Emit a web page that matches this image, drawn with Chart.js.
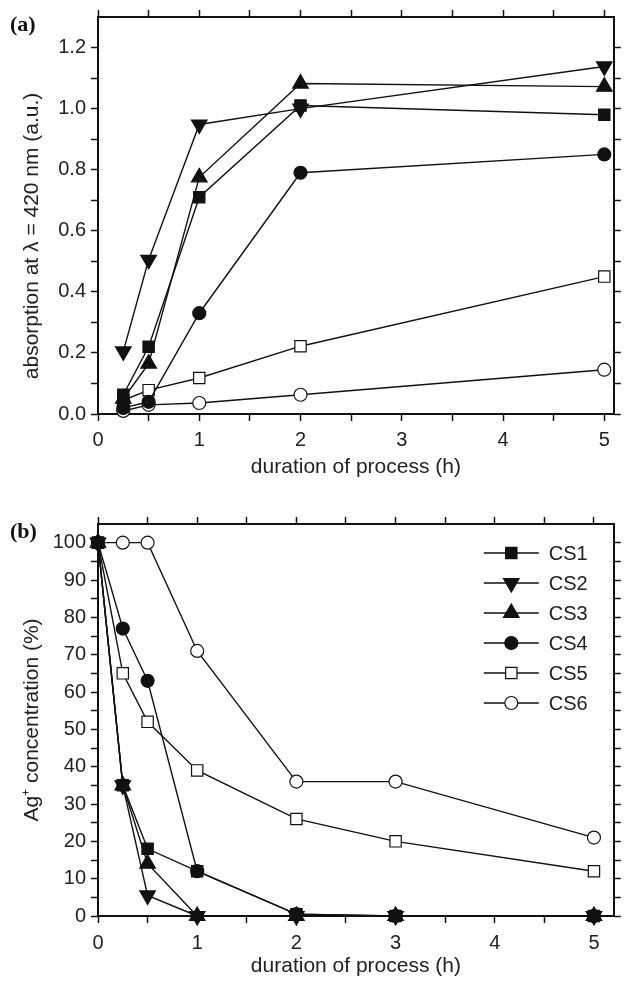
<!DOCTYPE html>
<html><head><meta charset="utf-8">
<script src="https://cdn.jsdelivr.net/npm/chart.js@4.4.1/dist/chart.umd.min.js"></script>
<style>
html,body{margin:0;padding:0;background:#fff;}
#wrap{position:relative;width:624px;height:985px;overflow:hidden;background:#fff;}
.box{position:absolute;left:0;width:624px;}
.lab{position:absolute;font-family:"Liberation Serif","DejaVu Serif",serif;font-weight:bold;font-size:22px;color:#111;line-height:1;}
</style></head><body>
<div id="wrap">
  <div class="box" style="top:0;height:490px"><canvas id="ca" width="624" height="490"></canvas></div>
  <div class="box" style="top:490px;height:495px"><canvas id="cb" width="624" height="495"></canvas></div>
  <div class="lab" style="left:10px;top:13px">(a)</div>
  <div class="lab" style="left:10px;top:520px">(b)</div>
</div>
<script>
// ---------- data ----------
const seriesNames = ['CS1','CS2','CS3','CS4','CS5','CS6'];

// panel (a): absorption at 420 nm vs duration
const timeA = [0.25, 0.5, 1, 2, 5];
const cs1A = [0.063, 0.22, 0.71, 1.01, 0.98];
const cs2A = [0.205, 0.505, 0.948, 1.00, 1.138];
const cs3A = [0.05, 0.165, 0.775, 1.082, 1.072];
const cs4A = [0.02, 0.04, 0.33, 0.79, 0.85];
const cs5A = [0.045, 0.078, 0.118, 0.222, 0.45];
const cs6A = [0.01, 0.03, 0.036, 0.063, 0.145];

// panel (b): Ag+ concentration vs duration
const timeB = [0, 0.25, 0.5, 1, 2, 3, 5];
const cs1B = [100, 35, 18, 12, 0.5, 0, 0];
const cs2B = [100, 35, 5.5, 0, 0, 0, 0];
const cs3B = [100, 35, 14, 0, 0, 0, 0];
const cs4B = [100, 77, 63, 12, 0.5, 0, 0];
const cs5B = [100, 65, 52, 39, 26, 20, 12];
const cs6B = [100, 100, 100, 71, 36, 36, 21];

// ticks
const xTickValues = [0,0.5,1,1.5,2,2.5,3,3.5,4,4.5,5];
const xTickLabels = ['0','','1','','2','','3','','4','','5'];
const yTickValuesA = [0,0.1,0.2,0.3,0.4,0.5,0.6,0.7,0.8,0.9,1.0,1.1,1.2];
const yTickLabelsA = ['0.0','','0.2','','0.4','','0.6','','0.8','','1.0','','1.2'];
const yTickValuesB = [0,5,10,15,20,25,30,35,40,45,50,55,60,65,70,75,80,85,90,95,100];
const yTickLabelsB = ['0','','10','','20','','30','','40','','50','','60','','70','','80','','90','','100'];

// ---------- styles ----------
const markers = [
  {ps:'rect', fill:'#111', r:8, rot:0},
  {ps:'triangle', fill:'#111', r:9, rot:180},
  {ps:'triangle', fill:'#111', r:9, rot:0},
  {ps:'circle', fill:'#111', r:6.5, rot:0},
  {ps:'rect', fill:'#fff', r:8, rot:0},
  {ps:'circle', fill:'#fff', r:6.5, rot:0}
];
const FAM = "'Liberation Sans', Arial, Helvetica, sans-serif";
const tickFont = {family:FAM, size:20};
const titleFont = {family:FAM, size:21};
const INK = '#111';
const TXT = '#222';

function buildDatasets(xs, series){
  return series.map((d,i)=>({
    label: seriesNames[i],
    data: xs.map((x,j)=>({x:x, y:d[j]})),
    borderColor: INK, borderWidth: 1.4,
    pointStyle: markers[i].ps, pointRadius: markers[i].r, pointHoverRadius: markers[i].r,
    pointRotation: markers[i].rot,
    pointBackgroundColor: markers[i].fill, pointBorderColor: INK, pointBorderWidth: 1.2,
    tension: 0, fill: false, clip: false
  }));
}

function setTicks(values){ return ax => { ax.ticks = values.map(v=>({value:v})); }; }

function scalesFor(o){
  const grid = {display:true, drawOnChartArea:false, drawTicks:true, tickLength:7, tickColor:INK, tickWidth:1.5};
  const border = {display:true, color:INK, width:2};
  return {
    x: {type:'linear', position:'bottom', min:o.xmin, max:o.xmax, offset:false,
        afterBuildTicks: setTicks(xTickValues),
        ticks:{font:tickFont, color:TXT, padding:o.xTickPad, autoSkip:false, maxRotation:0,
               callback:(v,i)=>xTickLabels[i]},
        grid:grid, border:border,
        title:{display:true, text:'duration of process (h)', font:titleFont, color:TXT, padding:{top:0,bottom:o.xTitlePad}},
        afterFit: ax=>{ ax.height = o.xh; }},
    x2: {type:'linear', position:'top', min:o.xmin, max:o.xmax, offset:false,
        afterBuildTicks: setTicks(xTickValues),
        ticks:{display:false}, grid:grid, border:border,
        afterFit: ax=>{ ax.height = o.x2h; }},
    y: {type:'linear', position:'left', min:o.ymin, max:o.ymax, offset:false,
        afterBuildTicks: setTicks(o.yVals),
        ticks:{font:tickFont, color:TXT, padding:5, autoSkip:false,
               callback:(v,i)=>o.yLabels[i]},
        grid:grid, border:border,
        title:{display:true, text:o.yTitle, font:titleFont, color:TXT, padding:{top:20,bottom:0}},
        afterFit: ax=>{ ax.width = o.yw; }},
    y2: {type:'linear', position:'right', min:o.ymin, max:o.ymax, offset:false,
        afterBuildTicks: setTicks(o.yVals),
        ticks:{display:false}, grid:grid, border:border,
        afterFit: ax=>{ ax.width = o.y2w; }}
  };
}

const insideLegend = {
  id:'insideLegend',
  afterDatasetsDraw(chart, args, opts){
    if(!opts || !opts.show) return;
    const ctx = chart.ctx, ca = chart.chartArea;
    chart.data.datasets.forEach((ds,i)=>{
      const y = ca.top + opts.top + i*opts.gap;
      const xl = ca.right - opts.lineStart, xr = ca.right - opts.lineEnd, xm = (xl+xr)/2;
      ctx.save();
      ctx.strokeStyle = INK; ctx.lineWidth = 1.4;
      ctx.beginPath(); ctx.moveTo(xl,y); ctx.lineTo(xr,y); ctx.stroke();
      ctx.fillStyle = ds.pointBackgroundColor; ctx.strokeStyle = ds.pointBorderColor;
      ctx.lineWidth = ds.pointBorderWidth;
      Chart.helpers.drawPoint(ctx, {pointStyle:ds.pointStyle, radius:ds.pointRadius, rotation:ds.pointRotation, borderWidth:ds.pointBorderWidth}, xm, y);
      ctx.fillStyle = TXT;
      ctx.font = opts.fontSize + 'px ' + FAM;
      ctx.textAlign = 'left'; ctx.textBaseline = 'middle';
      ctx.fillText(ds.label, ca.right - opts.textX, y + 1);
      ctx.restore();
    });
  }
};

function makeChart(id, xs, series, o){
  return new Chart(document.getElementById(id), {
    type:'line',
    data:{datasets: buildDatasets(xs, series)},
    options:{
      responsive:false, animation:false, events:[],
      layout:{padding:0},
      scales: scalesFor(o),
      plugins:{legend:{display:false}, tooltip:{enabled:false},
               insideLegend: o.legend || {show:false}}
    },
    plugins:[insideLegend]
  });
}

makeChart('ca', timeA, [cs1A,cs2A,cs3A,cs4A,cs5A,cs6A], {
  xmin:0, xmax:5.094, ymin:0, ymax:1.3,
  yVals:yTickValuesA, yLabels:yTickLabelsA,
  yTitle:'absorption at \u03bb = 420 nm (a.u.)' + '\u00a0\u00a0\u00a0\u00a0\u00a0\u00a0\u00a0',
  xh:76, x2h:17, yw:98, y2w:2, xTitlePad:10, xTickPad:7
});

makeChart('cb', timeB, [cs1B,cs2B,cs3B,cs4B,cs5B,cs6B], {
  xmin:0, xmax:5.2, ymin:0, ymax:105,
  yVals:yTickValuesB, yLabels:yTickLabelsB,
  yTitle:'Ag\u207a concentration (%)',
  xh:69, x2h:34, yw:98, y2w:8, xTitlePad:6, xTickPad:8,
  legend:{show:true, top:29, gap:30, lineStart:130, lineEnd:75, textX:65, fontSize:20}
});
</script>
</body></html>
